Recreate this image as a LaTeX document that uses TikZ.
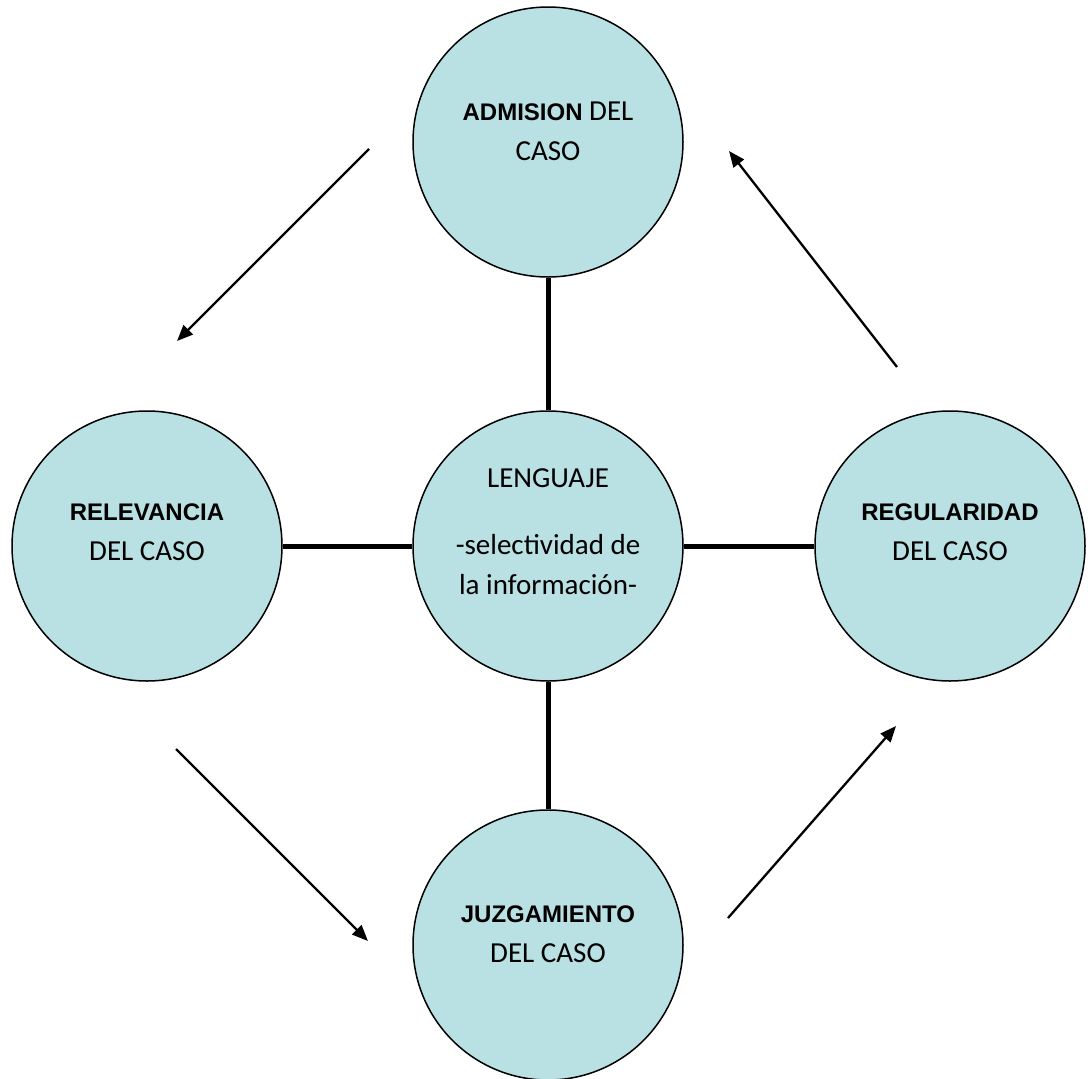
\documentclass[tikz,border=0pt]{standalone}
\usepackage{fontspec}
\setmainfont{Carlito}
\newfontfamily\boldarial{Liberation Sans}[UprightFont=*-Bold]
\usetikzlibrary{arrows.meta}
\definecolor{circfill}{RGB}{185,224,227}
\tikzset{
  bubble/.style={circle, draw=black, line width=1.5pt, fill=circfill, minimum size=270pt, inner sep=0pt},
  btext/.style={align=center, inner sep=0pt, font=\fontsize{29}{40}\selectfont},
  link/.style={line width=5pt},
  flow/.style={line width=2.3pt, -{Triangle[length=16pt,width=13pt]}}
}
\newcommand{\hdr}[1]{{\boldarial\fontsize{24}{40}\selectfont #1}}
\begin{document}
\begin{tikzpicture}[x=1pt,y=-1pt]
\useasboundingbox (0,0) rectangle (1088,1079);
\node[bubble] (top) at (548,142) {};
\node[bubble] (mid) at (548,546) {};
\node[bubble] (left) at (147,546) {};
\node[bubble] (right) at (950,546) {};
\node[bubble] (bot) at (548,945) {};
\draw[link] (top) -- (mid);
\draw[link] (mid) -- (bot);
\draw[link] (left) -- (mid);
\draw[link] (mid) -- (right);
\node[btext] (ttop) at (548,131) {\hdr{ADMISION} DEL\\CASO};
\node[btext] (tmid) at (548,532) {LENGUAJE\\[27pt]-selectividad de\\la información-};
\node[btext] (tleft) at (147,532) {\hdr{RELEVANCIA}\\DEL CASO};
\node[btext] (tright) at (950,532) {\hdr{REGULARIDAD}\\DEL CASO};
\node[btext] (tbot) at (548,934) {\hdr{JUZGAMIENTO}\\DEL CASO};
\coordinate (a1s) at (369,149); \coordinate (a1e) at (177,341);
\coordinate (a2s) at (176,749); \coordinate (a2e) at (368,941);
\coordinate (a3s) at (728,918); \coordinate (a3e) at (896,726);
\coordinate (a4s) at (897,367); \coordinate (a4e) at (729,151);
\draw[flow] (a1s) -- (a1e);
\draw[flow] (a2s) -- (a2e);
\draw[flow] (a3s) -- (a3e);
\draw[flow] (a4s) -- (a4e);
\end{tikzpicture}
\end{document}
